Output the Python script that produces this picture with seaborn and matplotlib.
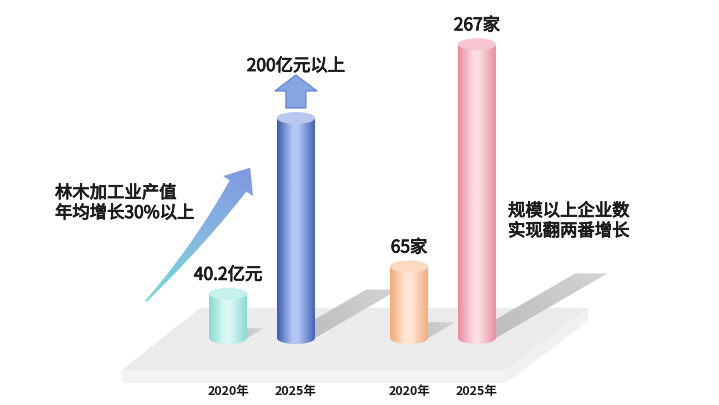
import numpy as np
import pandas as pd
import seaborn as sns
import matplotlib.pyplot as plt
import matplotlib.patheffects as pe
from matplotlib.patches import Ellipse, Polygon, PathPatch
from matplotlib.path import Path
from matplotlib.colors import LinearSegmentedColormap

# data
groups = ['产值', '产值', '企业数', '企业数']
years = ['2020年', '2025年', '2020年', '2025年']
values = [40.2, 200, 65, 267]
value_labels = ['40.2亿元', '200亿元以上', '65家', '267家']
has_up_arrow = [False, True, False, False]
edge_colors = ['#84d9cf', '#3a5bb0', '#f2a975', '#e8889b']
light_colors = ['#dcf8f4', '#b4c7f4', '#fee7d6', '#fcdde3']
top_colors = ['#c6f0ea', '#b9c8ef', '#fbd8c0', '#f6c5cf']
note_left = '林木加工业产值\n年均增长30%以上'
note_right = '规模以上企业数\n实现翻两番增长'

sns.set_theme(style='white')
plt.rcParams['font.family'] = ['Noto Sans CJK SC', 'DejaVu Sans']

W, H = 719, 405
fig = plt.figure(figsize=(W / 100, H / 100), dpi=100)
ax = fig.add_axes([0, 0, 1, 1])

df = pd.DataFrame({'group': groups, 'year': years, 'value': values})
sns.barplot(data=df, x='group', y='value', hue='year', width=0.75, gap=0.44,
            errorbar=None, legend=False, ax=ax)

# put baseline / scale where the picture has them
ax.set_xlim(-262 / 181, (W - 262) / 181)
ax.set_ylim(-(H - 338) / 1.1, 338 / 1.1)
ax.set_autoscale_on(False)
ax.axis('off')

inv = ax.transData.inverted()
semi = [pe.withStroke(linewidth=0.6, foreground='#1a1a1a')]


def px(x, y):
    # picture pixel (from top-left) -> data
    return inv.transform((x, H - y))


def to_px(x, y):
    d = ax.transData.transform((x, y))
    return d[0], H - d[1]


def grad_fill(poly_xy, cmap, direction, z):
    # gradient image clipped to polygon (data coords); direction = unit vector in pixel space
    pts_px = np.array([to_px(*p) for p in poly_xy])
    x0, y0 = pts_px.min(axis=0)
    x1, y1 = pts_px.max(axis=0)
    gx = np.linspace(x0, x1, 120)
    gy = np.linspace(y1, y0, 120)
    X, Y = np.meshgrid(gx, gy)
    t = X * direction[0] + Y * direction[1]
    t = (t - t.min()) / (t.max() - t.min() + 1e-9)
    a = px(x0, y1)
    b = px(x1, y0)
    im = ax.imshow(t, cmap=cmap, extent=(a[0], b[0], a[1], b[1]), origin='lower',
                   aspect='auto', interpolation='bilinear', zorder=z)
    im.set_clip_path(Polygon(poly_xy, closed=True, transform=ax.transData))


# floor platform
floor_top = [px(200, 308), px(588, 308), px(506, 370), px(122, 370)]
floor_front = [px(122, 370), px(506, 370), px(506, 383), px(122, 383)]
floor_side = [px(506, 370), px(588, 308), px(588, 321), px(506, 383)]
ax.add_patch(Polygon(floor_top, closed=True, fc='#ebebeb', ec='none', zorder=0.5))
ax.add_patch(Polygon(floor_front, closed=True, fc='#f3f3f3', ec='none', zorder=0.5))
ax.add_patch(Polygon(floor_side, closed=True, fc='#f0f0f0', ec='none', zorder=0.5))

bars = sorted([p for p in ax.patches if isinstance(p, plt.Rectangle) and p.get_height() > 0
               and p.get_width() < 1], key=lambda p: p.get_x())

e = px(0, 0)[1] - px(0, 12)[1]  # ellipse height in data units
sx = ax.transData.transform((1, 0))[0] - ax.transData.transform((0, 0))[0]
sy = ax.transData.transform((0, 1))[1] - ax.transData.transform((0, 0))[1]
shadow_cmap = LinearSegmentedColormap.from_list('sh', ['#b8b8b8', '#d4d4d4'])

for i, p in enumerate(bars):
    p.set_visible(False)
    x0, w, h = p.get_x(), p.get_width(), p.get_height()
    cx = x0 + w / 2
    hp = h * sy
    # shadow
    dxd = 0.38 * hp / sx
    dyd = 0.22 * h
    sh = [(x0 + w * 0.15, 0), (x0 + w, 0), (x0 + w + dxd, dyd), (x0 + w * 0.15 + dxd, dyd)]
    grad_fill(sh, shadow_cmap, (0.5, -0.3), 1)

    # cylinder body
    t = np.linspace(np.pi, 2 * np.pi, 40)
    arc = np.column_stack([cx + w / 2 * np.cos(t), e / 2 * np.sin(t)])
    verts = np.vstack([[x0, h], arc, [x0 + w, h], [x0, h]])
    body = Path(verts, closed=True)
    cmap = LinearSegmentedColormap.from_list(
        'c%d' % i, [(0, edge_colors[i]), (0.4, light_colors[i]), (0.55, light_colors[i]), (1, edge_colors[i])])
    im = ax.imshow(np.linspace(0, 1, 256)[None, :], cmap=cmap, extent=(x0, x0 + w, -e / 2, h),
                   aspect='auto', origin='lower', interpolation='bilinear', zorder=3)
    im.set_clip_path(PathPatch(body, transform=ax.transData))
    ax.add_patch(Ellipse((cx, h), w, e, fc=top_colors[i], ec='none', zorder=4))

    tx, ty = to_px(cx, h)
    if has_up_arrow[i]:
        arr = [px(tx - 10, ty - 10), px(tx - 10, ty - 27), px(tx - 21, ty - 27), px(tx, ty - 43),
               px(tx + 21, ty - 27), px(tx + 10, ty - 27), px(tx + 10, ty - 10)]
        ax.add_patch(Polygon(arr, closed=True, fc='#86a6e3', ec='#5a7ccc', lw=0.8, zorder=4))
        ly = ty - 52
    else:
        ly = ty - 19
    ax.text(cx, px(0, ly)[1], value_labels[i], ha='center', va='center',
            fontsize=12.5, color='#1a1a1a', zorder=5, path_effects=semi)
    ax.text(cx, px(0, 392)[1], years[i], ha='center', va='center',
            fontsize=9, fontweight='bold', color='#1a1a1a', zorder=5)

# curved growth arrow
P0, P1, P2 = np.array([146, 301]), np.array([198, 246]), np.array([238, 186])
tt = np.linspace(0, 1, 60)
curve = ((1 - tt) ** 2)[:, None] * P0 + (2 * (1 - tt) * tt)[:, None] * P1 + (tt ** 2)[:, None] * P2
tang = (2 * (1 - tt))[:, None] * (P1 - P0) + (2 * tt)[:, None] * (P2 - P1)
tang = tang / np.linalg.norm(tang, axis=1)[:, None]
nrm = np.column_stack([-tang[:, 1], tang[:, 0]])
half = (1 + 9 * tt ** 1.2)[:, None]
left = curve + nrm * half
right = curve - nrm * half
tip = P2 + tang[-1] * 22
hl = P2 + nrm[-1] * 18
hr = P2 - nrm[-1] * 18
arrow_px = np.vstack([left, [hl], [tip], [hr], right[::-1]])
arrow_xy = [px(*q) for q in arrow_px]
arrow_cmap = LinearSegmentedColormap.from_list('ar', ['#70ded4', '#86b8e2', '#7f98df'])
d = (tip - P0) / np.linalg.norm(tip - P0)
grad_fill(arrow_xy, arrow_cmap, (d[0], d[1]), 2)

# notes
ax.text(*px(55, 203), note_left, ha='left', va='center', fontsize=12.5,
        color='#1a1a1a', linespacing=1.15, zorder=5, path_effects=semi)
ax.text(*px(508, 221), note_right, ha='left', va='center', fontsize=12.5,
        color='#1a1a1a', linespacing=1.15, zorder=5, path_effects=semi)

fig.savefig('out.png', dpi=100, facecolor='white')
